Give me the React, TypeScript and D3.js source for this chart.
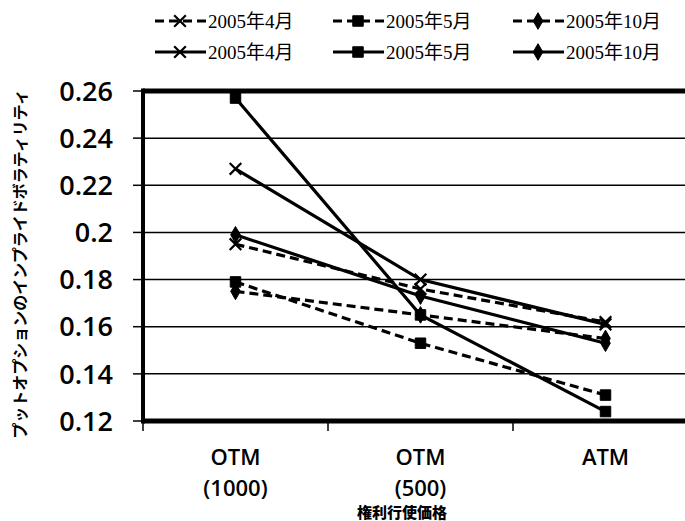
import * as d3 from "d3";
import { useRef, useEffect } from "react";

const categories = ["OTM (1000)", "OTM (500)", "ATM"];
const categoryLines = [["OTM", "(1000)"], ["OTM", "(500)"], ["ATM"]];
const yTicks = [0.12, 0.14, 0.16, 0.18, 0.2, 0.22, 0.24, 0.26];

// dashed series
const dashedApr = [0.195, 0.176, 0.162];
const dashedMay = [0.179, 0.153, 0.131];
const dashedOct = [0.175, 0.165, 0.155];
// solid series
const solidApr = [0.227, 0.18, 0.161];
const solidMay = [0.257, 0.165, 0.124];
const solidOct = [0.199, 0.173, 0.153];

const seriesNames = ["2005年4月", "2005年5月", "2005年10月"];
const yTitle = "プットオプションのインプライドボラティリティ";
const xTitle = "権利行使価格";

const App = () => {
  const container = useRef(null);

  useEffect(() => {
    createChart();
  });

  const createChart = () => {
    let node = container.current;
    let width = 685;
    let height = 521;
    let margins = { t: 91, b: 100, l: 143, r: -13 };

    let series = [
      { name: seriesNames[0], values: dashedApr, marker: "x", dashed: true },
      { name: seriesNames[1], values: dashedMay, marker: "square", dashed: true },
      { name: seriesNames[2], values: dashedOct, marker: "diamond", dashed: true },
      { name: seriesNames[0], values: solidApr, marker: "x", dashed: false },
      { name: seriesNames[1], values: solidMay, marker: "square", dashed: false },
      { name: seriesNames[2], values: solidOct, marker: "diamond", dashed: false },
    ];

    let svg = d3
      .select(node)
      .selectAll("svg")
      .data([0])
      .join("svg")
      .attr("width", width)
      .attr("height", height)
      .style("position", "absolute")
      .style("left", 0)
      .style("top", 0)
      .style("background", "#fff");
    svg.selectAll("*").remove();

    let xScale = d3
      .scaleBand()
      .domain(categories)
      .range([margins.l, width - margins.r])
      .padding(0);
    let yScale = d3
      .scaleLinear()
      .domain([0.12, 0.26])
      .range([height - margins.b, margins.t]);

    let cx = (i) => xScale(categories[i]) + xScale.bandwidth() / 2;

    let symbolFor = (m) =>
      m === "x" ? d3.symbolX : m === "square" ? d3.symbolSquare : d3.symbolDiamond;
    let sizeFor = (m) => (m === "x" ? 90 : m === "square" ? 110 : 80);

    // gridlines
    let gridg = svg.append("g").attr("class", "grid-g");
    gridg
      .selectAll("line")
      .data(yTicks.filter((d) => d > 0.12 && d < 0.26))
      .join("line")
      .attr("x1", margins.l)
      .attr("x2", width)
      .attr("y1", (d) => yScale(d))
      .attr("y2", (d) => yScale(d))
      .attr("stroke", "#000")
      .attr("stroke-width", 1.5);

    // y tick marks + labels
    let yaxisg = svg.append("g").attr("class", "y-axis-g");
    yaxisg
      .selectAll("line")
      .data(yTicks)
      .join("line")
      .attr("x1", margins.l - 10)
      .attr("x2", margins.l)
      .attr("y1", (d) => yScale(d))
      .attr("y2", (d) => yScale(d))
      .attr("stroke", "#000")
      .attr("stroke-width", 1.5);
    yaxisg
      .selectAll("text")
      .data(yTicks)
      .join("text")
      .attr("x", 113)
      .attr("y", (d) => yScale(d))
      .attr("dy", "0.36em")
      .attr("text-anchor", "end")
      .style("font-family", "'Open Sans', sans-serif")
      .style("font-weight", 600)
      .style("font-size", "27px")
      .text((d) => d3.format("")(d));

    // x tick marks
    let xaxisg = svg.append("g").attr("class", "x-axis-g");
    xaxisg
      .selectAll("line")
      .data(categories)
      .join("line")
      .attr("x1", (d) => xScale(d))
      .attr("x2", (d) => xScale(d))
      .attr("y1", yScale(0.12))
      .attr("y2", yScale(0.12) + 10)
      .attr("stroke", "#000")
      .attr("stroke-width", 1.5);
    let labelg = xaxisg
      .selectAll(".x-label")
      .data(categoryLines)
      .join("text")
      .attr("class", "x-label")
      .attr("text-anchor", "middle")
      .style("font-family", "'Open Sans', sans-serif")
      .style("font-weight", 600)
      .style("font-size", "22px");
    labelg
      .selectAll("tspan")
      .data((d, i) => d.map((t) => ({ t, i })))
      .join("tspan")
      .attr("x", (d) => cx(d.i))
      .attr("y", (d, j) => 465 + j * 31)
      .text((d) => d.t);

    // frame
    let frameg = svg.append("g").attr("class", "frame-g");
    frameg
      .append("line")
      .attr("x1", margins.l)
      .attr("x2", width)
      .attr("y1", yScale(0.26))
      .attr("y2", yScale(0.26))
      .attr("stroke", "#000")
      .attr("stroke-width", 5);
    frameg
      .append("line")
      .attr("x1", margins.l)
      .attr("x2", width)
      .attr("y1", yScale(0.12))
      .attr("y2", yScale(0.12))
      .attr("stroke", "#000")
      .attr("stroke-width", 5);
    frameg
      .append("line")
      .attr("x1", margins.l)
      .attr("x2", margins.l)
      .attr("y1", yScale(0.26) - 2.5)
      .attr("y2", yScale(0.12) + 2.5)
      .attr("stroke", "#000")
      .attr("stroke-width", 4);

    // lines
    let lineGen = d3
      .line()
      .x((d, i) => cx(i))
      .y((d) => yScale(d));
    let linesg = svg.append("g").attr("class", "lines-g");
    linesg
      .selectAll("path")
      .data(series)
      .join("path")
      .attr("d", (d) => lineGen(d.values))
      .attr("fill", "none")
      .attr("stroke", "#000")
      .attr("stroke-width", 3.2)
      .attr("stroke-dasharray", (d) => (d.dashed ? "9,5" : null));

    // markers
    let markersg = svg.append("g").attr("class", "markers-g");
    series.forEach((s) => {
      markersg
        .append("g")
        .selectAll("path")
        .data(s.values)
        .join("path")
        .attr(
          "d",
          d3.symbol().type(symbolFor(s.marker)).size(sizeFor(s.marker))
        )
        .attr("transform", (d, i) => `translate(${cx(i)},${yScale(d)})`)
        .attr("fill", s.marker === "x" ? "none" : "#000")
        .attr("stroke", "#000")
        .attr("stroke-width", s.marker === "x" ? 2.2 : 1);
    });

    // legend
    let legendg = svg.append("g").attr("class", "legend-g");
    let colX = [155, 333, 513];
    let rowY = [21, 52];
    series.forEach((s, k) => {
      let col = k % 3;
      let row = Math.floor(k / 3);
      let g = legendg
        .append("g")
        .attr("transform", `translate(${colX[col]},${rowY[row]})`);
      g.append("line")
        .attr("x1", 0)
        .attr("x2", 51)
        .attr("y1", 0)
        .attr("y2", 0)
        .attr("stroke", "#000")
        .attr("stroke-width", 3.2)
        .attr("stroke-dasharray", s.dashed ? "9,5" : null);
      g.append("path")
        .attr(
          "d",
          d3.symbol().type(symbolFor(s.marker)).size(sizeFor(s.marker))
        )
        .attr("transform", "translate(25,0)")
        .attr("fill", s.marker === "x" ? "none" : "#000")
        .attr("stroke", "#000")
        .attr("stroke-width", s.marker === "x" ? 2.2 : 1);
      g.append("text")
        .attr("x", 53)
        .attr("y", 0)
        .attr("dy", "0.35em")
        .style("font-family", "'Liberation Serif', 'Noto Sans CJK JP', serif")
        .style("font-size", "19px")
        .text(s.name);
    });

    // axis titles
    svg
      .append("text")
      .attr(
        "transform",
        `translate(20,${(yScale(0.26) + yScale(0.12)) / 2 + 8})rotate(-90)`
      )
      .attr("text-anchor", "middle")
      .attr("dy", "0.35em")
      .style("font-family", "'Noto Sans CJK JP', sans-serif")
      .style("font-weight", 700)
      .style("font-size", "16px")
      .text(yTitle);
    svg
      .append("text")
      .attr("x", 402)
      .attr("y", 518)
      .attr("text-anchor", "middle")
      .style("font-family", "'Noto Sans CJK JP', sans-serif")
      .style("font-weight", 900)
      .style("font-size", "15px")
      .text(xTitle);
  };

  return <div ref={container} style={{ width: 685, height: 521 }}></div>;
};

export default App;
